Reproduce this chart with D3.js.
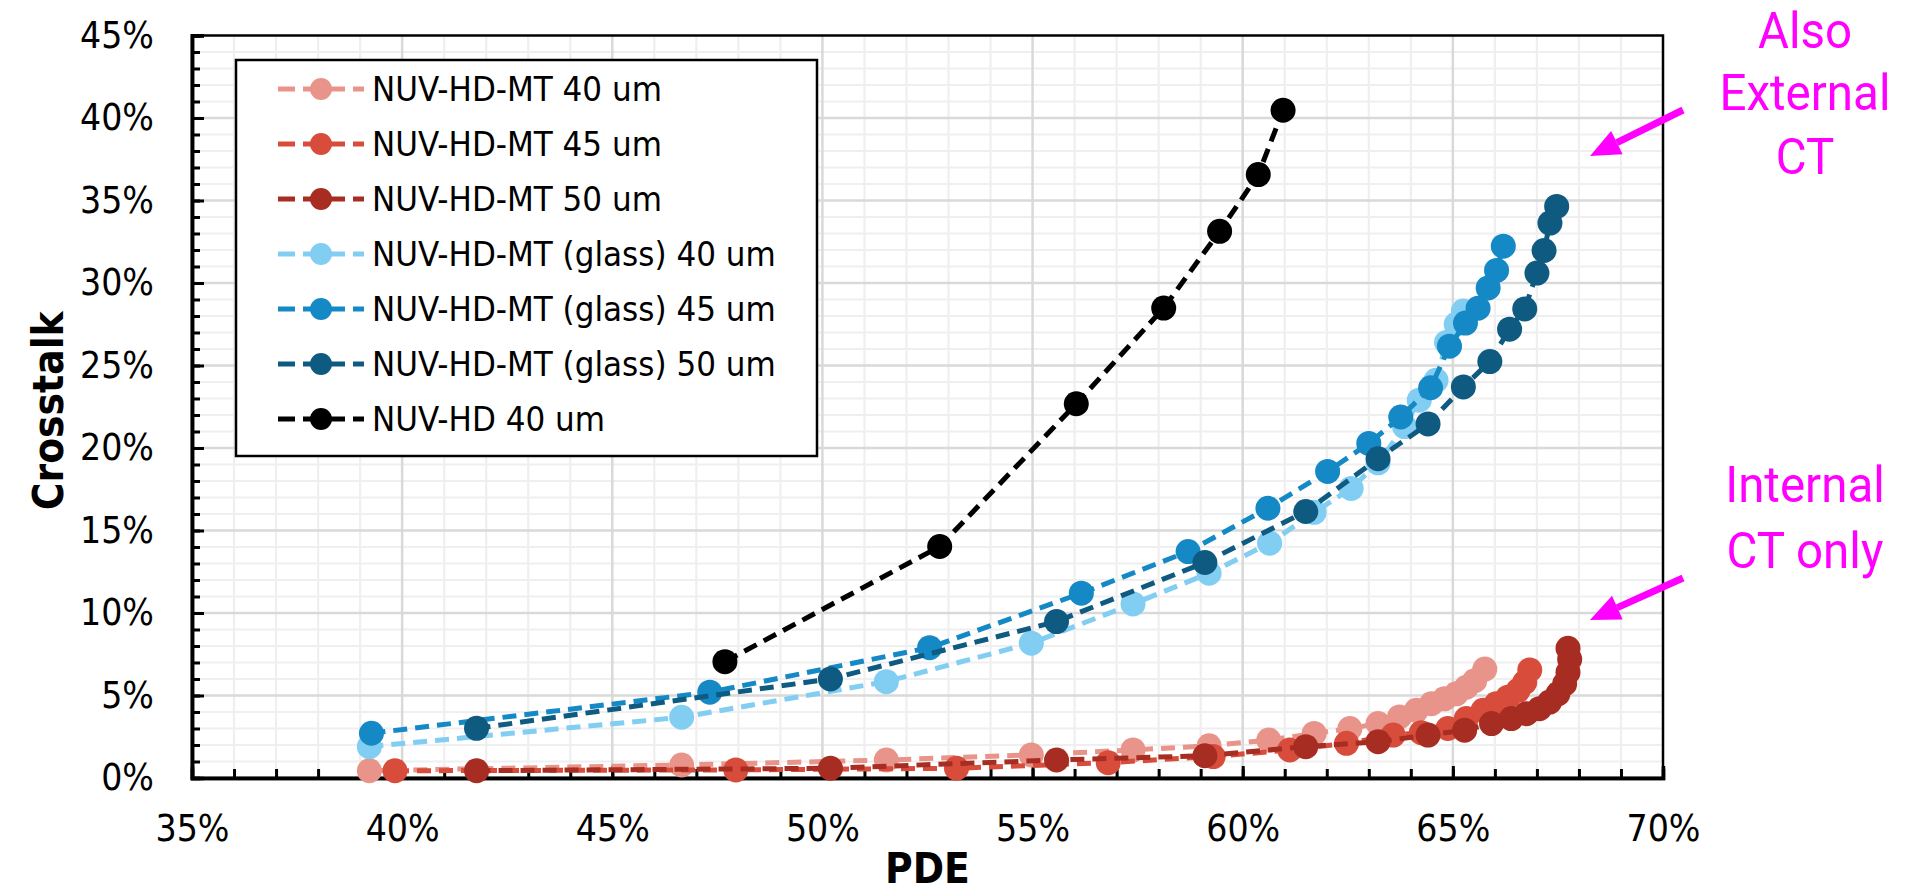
<!DOCTYPE html>
<html>
<head>
<meta charset="utf-8">
<script src="https://cdn.jsdelivr.net/npm/d3@7"></script>
<style>
  html, body { margin: 0; padding: 0; background: #ffffff; }
  svg { display: block; }
</style>
</head>
<body>
<svg id="chart" width="1906" height="893"></svg>
<script>
// ---------- data (PDE %, crosstalk %) ----------
const seriesNames = [
  "NUV-HD-MT 40 um",
  "NUV-HD-MT 45 um",
  "NUV-HD-MT 50 um",
  "NUV-HD-MT (glass) 40 um",
  "NUV-HD-MT (glass) 45 um",
  "NUV-HD-MT (glass) 50 um",
  "NUV-HD 40 um"
];
const seriesColors = ["#E8948A", "#D84C3C", "#A72D22", "#82CDF2", "#1589C5", "#0F5A80", "#000000"];

const mt40 = [[39.22,0.44],[46.65,0.79],[51.52,1.09],[54.97,1.40],[57.39,1.70],[59.20,1.95],[60.62,2.30],[61.70,2.70],[62.55,3.00],[63.22,3.30],[63.73,3.70],[64.13,4.10],[64.49,4.50],[64.80,4.80],[65.08,5.10],[65.32,5.50],[65.52,5.90],[65.76,6.60]];
const mt45 = [[39.83,0.44],[47.94,0.49],[53.19,0.59],[56.80,0.93],[59.30,1.30],[61.12,1.70],[62.47,2.10],[63.58,2.60],[64.25,2.75],[64.88,3.00],[65.32,3.60],[65.72,4.10],[66.03,4.50],[66.31,4.90],[66.55,5.30],[66.71,5.80],[66.83,6.55]];
const mt50 = [[41.77,0.44],[50.19,0.59],[55.57,1.09],[59.10,1.35],[61.50,1.90],[63.22,2.20],[64.41,2.60],[65.28,2.90],[65.92,3.30],[66.39,3.60],[66.75,3.90],[67.06,4.20],[67.30,4.60],[67.50,5.10],[67.66,5.70],[67.74,6.40],[67.78,7.20],[67.74,7.86]];
const glass40 = [[39.22,1.90],[46.65,3.68],[51.52,5.84],[54.97,8.17],[57.39,10.55],[59.20,12.41],[60.64,14.23],[61.70,16.10],[62.58,17.55],[63.22,19.10],[63.85,21.30],[64.20,22.90],[64.60,24.10],[64.85,26.40],[65.08,27.50],[65.25,28.30]];
const glass45 = [[39.27,2.71],[47.32,5.20],[52.55,7.90],[56.16,11.20],[58.70,13.72],[60.60,16.35],[62.02,18.58],[63.00,20.28],[63.76,21.88],[64.47,23.65],[64.92,26.17],[65.30,27.57],[65.60,28.47],[65.84,29.70],[66.04,30.76],[66.20,32.23]];
const glass50 = [[41.77,3.01],[50.19,6.00],[55.57,9.48],[59.10,13.06],[61.50,16.15],[63.22,19.35],[64.41,21.46],[65.25,23.70],[65.88,25.24],[66.35,27.20],[66.71,28.43],[67.00,30.60],[67.17,31.97],[67.31,33.63],[67.47,34.64]];
const hd40 = [[47.68,7.05],[52.79,14.03],[56.04,22.68],[58.12,28.48],[59.45,33.13],[60.37,36.57],[60.96,40.47]];

const seriesData = [mt40, mt45, mt50, glass40, glass45, glass50, hd40];

const xMajorTicks = [35, 40, 45, 50, 55, 60, 65, 70];
const yMajorTicks = [0, 5, 10, 15, 20, 25, 30, 35, 40, 45];
const xMinorTicks = d3.range(36, 70, 1);
const yMinorTicks = d3.range(1, 45, 1);

const xTitle = "PDE";
const yTitle = "Crosstalk";
const noteTop = ["Also", "External", "CT"];
const noteBottom = ["Internal", "CT only"];

// ---------- layout ----------
const svg = d3.select("#chart");
const L = 192, R = 1663, T = 35.5, B = 778;
const x = d3.scaleLinear().domain([35, 70]).range([L, R]);
const y = d3.scaleLinear().domain([0, 45]).range([B, T]);

const tickFont = "'DejaVu Sans', Verdana, sans-serif";
const SQ = 0.9; // horizontal condensing (Tahoma-like proportions)

function condense(sel, k) {
  sel.each(function () {
    const t = d3.select(this);
    const tx = +(t.attr("x") || 0);
    const prev = t.attr("transform") || "";
    t.attr("transform", `${prev} translate(${tx * (1 - k)},0) scale(${k},1)`);
  });
}

// grid
const grid = svg.append("g");
grid.selectAll("line.vmin").data(xMinorTicks.filter(d => d % 5 !== 0)).join("line")
  .attr("x1", d => x(d)).attr("x2", d => x(d)).attr("y1", T).attr("y2", B)
  .attr("stroke", "#efefef").attr("stroke-width", 2.2);
grid.selectAll("line.hmin").data(yMinorTicks.filter(d => d % 5 !== 0)).join("line")
  .attr("y1", d => y(d)).attr("y2", d => y(d)).attr("x1", L).attr("x2", R)
  .attr("stroke", "#efefef").attr("stroke-width", 2.2);
grid.selectAll("line.vmaj").data(xMajorTicks.slice(1, -1)).join("line")
  .attr("x1", d => x(d)).attr("x2", d => x(d)).attr("y1", T).attr("y2", B)
  .attr("stroke", "#d9d9d9").attr("stroke-width", 2.5);
grid.selectAll("line.hmaj").data(yMajorTicks.slice(1, -1)).join("line")
  .attr("y1", d => y(d)).attr("y2", d => y(d)).attr("x1", L).attr("x2", R)
  .attr("stroke", "#d9d9d9").attr("stroke-width", 2.5);

// frame (top/right)
svg.append("rect").attr("x", L).attr("y", T).attr("width", R - L).attr("height", B - T)
  .attr("fill", "none").attr("stroke", "#000").attr("stroke-width", 2.5);

// axes
const xAxisMinor = d3.axisBottom(x).tickValues(xMinorTicks).tickSize(-9).tickFormat("");
const yAxisMinor = d3.axisLeft(y).tickValues(yMinorTicks).tickSize(-8).tickFormat("");
const xAxis = d3.axisBottom(x).tickValues(xMajorTicks).tickSize(-12).tickPadding(37)
  .tickFormat(d => d + "%");
const yAxis = d3.axisLeft(y).tickValues(yMajorTicks).tickSize(-12).tickPadding(38)
  .tickFormat(d => d + "%");

function styleAxis(g) {
  g.select(".domain").attr("stroke", "#000").attr("stroke-width", 3.5);
  g.selectAll(".tick line").attr("stroke", "#000").attr("stroke-width", 3);
  g.selectAll(".tick text").attr("font-family", tickFont).attr("font-size", 37).attr("fill", "#000")
    .call(condense, SQ);
}
svg.append("g").attr("transform", `translate(0,${B})`).call(xAxisMinor).call(styleAxis);
svg.append("g").attr("transform", `translate(${L},0)`).call(yAxisMinor).call(styleAxis);
svg.append("g").attr("transform", `translate(0,${B})`).call(xAxis).call(styleAxis);
svg.append("g").attr("transform", `translate(${L},0)`).call(yAxis).call(styleAxis);

// axis titles
svg.append("text").attr("x", (L + R) / 2).attr("y", 883).attr("text-anchor", "middle")
  .attr("font-family", tickFont).attr("font-weight", "bold").attr("font-size", 42)
  .text(xTitle).call(condense, SQ);
svg.append("text").attr("transform", `translate(63,${(T + B) / 2 + 4}) rotate(-90) scale(${SQ},1)`)
  .attr("text-anchor", "middle")
  .attr("font-family", tickFont).attr("font-weight", "bold").attr("font-size", 42)
  .text(yTitle);

// series
const line = d3.line().x(d => x(d[0])).y(d => y(d[1]));
const plot = svg.append("g");
seriesData.forEach((data, i) => {
  const g = plot.append("g");
  g.append("path").datum(data).attr("d", line)
    .attr("fill", "none").attr("stroke", seriesColors[i]).attr("stroke-width", 5)
    .attr("stroke-dasharray", "14,8");
  g.selectAll("circle").data(data).join("circle")
    .attr("cx", d => x(d[0])).attr("cy", d => y(d[1])).attr("r", 12.5)
    .attr("fill", seriesColors[i]);
});

// legend
const lg = svg.append("g");
lg.append("rect").attr("x", 236).attr("y", 60).attr("width", 581).attr("height", 396)
  .attr("fill", "#fff").attr("stroke", "#000").attr("stroke-width", 2.5);
seriesNames.forEach((name, i) => {
  const cy = 89 + i * 55;
  lg.append("line").attr("x1", 278).attr("x2", 364).attr("y1", cy).attr("y2", cy)
    .attr("stroke", seriesColors[i]).attr("stroke-width", 5).attr("stroke-dasharray", "17,8");
  lg.append("circle").attr("cx", 321).attr("cy", cy).attr("r", 11).attr("fill", seriesColors[i]);
  lg.append("text").attr("x", 372).attr("y", cy).attr("dy", "0.36em")
    .attr("font-family", tickFont).attr("font-size", 34.5).attr("fill", "#000").text(name)
    .call(condense, SQ);
});

// annotations
const noteFont = "Roboto, 'Noto Sans', sans-serif";
const ann = svg.append("g").attr("fill", "#FF00FF");
const topBaselines = [48, 110, 174];
noteTop.forEach((t, i) => {
  ann.append("text").attr("x", 1805).attr("y", topBaselines[i]).attr("text-anchor", "middle")
    .attr("font-family", noteFont).attr("font-size", 50).text(t).call(condense, 0.95);
});
noteBottom.forEach((t, i) => {
  ann.append("text").attr("x", 1805).attr("y", 502 + i * 66).attr("text-anchor", "middle")
    .attr("font-family", noteFont).attr("font-size", 50).text(t).call(condense, 0.95);
});
function arrow(x1, y1, x2, y2) {
  const a = Math.atan2(y2 - y1, x2 - x1);
  const len = 30, half = 13;
  const bx = x2 - len * Math.cos(a), by = y2 - len * Math.sin(a);
  svg.append("line").attr("x1", x1).attr("y1", y1).attr("x2", bx).attr("y2", by)
    .attr("stroke", "#FF00FF").attr("stroke-width", 7);
  svg.append("path")
    .attr("d", `M${x2},${y2} L${bx - half * Math.sin(a)},${by + half * Math.cos(a)} L${bx + half * Math.sin(a)},${by - half * Math.cos(a)} Z`)
    .attr("fill", "#FF00FF");
}
arrow(1683, 110, 1590, 156);
arrow(1683, 578, 1590, 620);
</script>
</body>
</html>
